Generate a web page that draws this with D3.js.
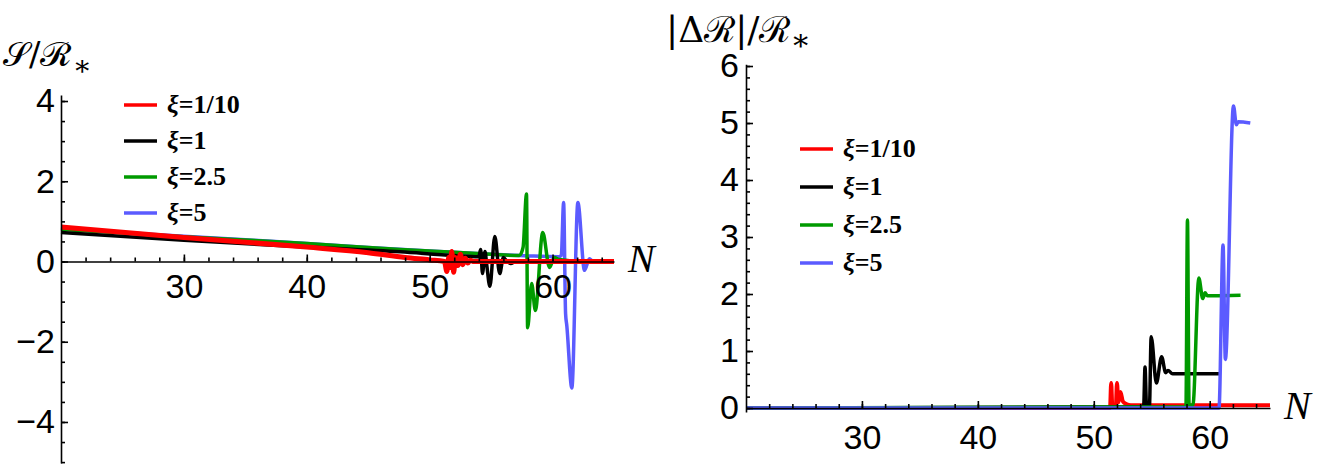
<!DOCTYPE html>
<html>
<head>
<meta charset="utf-8">
<script src="https://cdn.jsdelivr.net/npm/d3@7"></script>
<style>
  html, body { margin: 0; padding: 0; background: #fff; }
  svg { display: block; }
</style>
</head>
<body>
<svg id="chart" width="1326" height="464"></svg>
<script>
// legend / series
const xiLabels = ['1/10', '1', '2.5', '5'];
const colors = ['#ff0000', '#000000', '#009a00', '#5b5bff'];

// left panel: S / R*  vs N
const sRed = [[20, 0.86], [30, 0.6], [40, 0.36], [45, 0.22], [48, 0.1], [50, 0.04], [51.2, 0.0], [51.4, -0.25], [51.55, 0.1], [51.65, -0.15], [51.8, 0.25], [51.95, -0.27], [52.1, 0.1], [52.3, -0.1], [52.5, 0.18], [52.7, -0.08], [52.9, 0.08], [53.1, -0.04], [53.3, 0.03], [53.6, 0], [65, 0]];
const sBlack = [[20, 0.72], [30, 0.53], [40, 0.36], [47.6, 0.24], [52, 0.15], [54.0, 0.12], [54.15, 0.3], [54.3, -0.3], [54.5, 0.25], [54.65, -0.1], [54.9, -0.62], [55.3, 0.62], [55.7, -0.3], [56.0, 0.1], [56.3, 0.0], [56.6, -0.05], [57.0, 0.0], [60.9, 0.0]];
const sGreen = [[20, 0.8], [30, 0.62], [40, 0.45], [47.6, 0.3], [52, 0.23], [55, 0.18], [57.3, 0.15], [57.6, 0.35], [57.88, 1.68], [57.97, -1.65], [58.3, -0.55], [58.6, -1.22], [59.2, 0.72], [59.75, -0.15], [60.15, 0.1], [60.5, 0.05], [62.6, 0.0]];
const sBlue = [[20, 0.82], [25, 0.72], [30, 0.63], [35, 0.54], [40, 0.45], [45, 0.35], [50, 0.26], [55, 0.18], [58, 0.14], [60.5, 0.12], [60.71, 0.15], [60.9, 1.47], [61.06, -1.3], [61.16, -1.6], [61.57, -3.15], [62.06, 1.47], [62.6, -0.22], [63.0, 0.07], [63.3, 0.0], [63.5, 0.0]];

// right panel: |dR| / R*  vs N
const dRed = [[20, 0], [51.4, 0], [51.5, 0.44], [51.6, 0.03], [51.9, 0.03], [52.0, 0.44], [52.12, 0.1], [52.3, 0.28], [52.5, 0.12], [52.8, 0.07], [53.2, 0.05], [65.2, 0.05]];
const dBlack = [[20, 0], [54.3, 0.02], [54.42, 0.72], [54.55, 0.03], [54.8, 0.03], [54.95, 1.25], [55.4, 0.44], [55.85, 0.9], [56.2, 0.62], [56.4, 0.66], [56.8, 0.6], [60.94, 0.6]];
const dGreen = [[20, 0], [57.95, 0.02], [58.08, 3.3], [58.22, 0.05], [58.55, 0.05], [59.06, 2.28], [59.4, 1.92], [59.6, 2.02], [59.8, 1.97], [62.66, 1.98]];
const dBlue = [[20, 0], [60.8, 0], [61.15, 2.86], [61.35, 0.85], [62.05, 5.3], [62.3, 4.97], [62.45, 5.02], [63.5, 5.0]];

const xMajor = [30, 40, 50, 60];
const xMinor = d3.range(22, 65, 2);
const leftYMajor = [-4, -2, 0, 2, 4];
const leftYMinor = d3.range(-5, 4.01, 0.5);
const rightYMajor = [0, 1, 2, 3, 4, 5, 6];
const rightYMinor = d3.range(0, 6.01, 0.2);

const svg = d3.select('#chart');
svg.append('rect').attr('width', 1326).attr('height', 464).attr('fill', '#fff');

function drawPanel (cfg) {
  const x = d3.scaleLinear().domain(cfg.xDomain).range(cfg.xRange);
  const y = d3.scaleLinear().domain(cfg.yDomain).range(cfg.yRange);
  const g = svg.append('g');

  const line = d3.line()
    .x(d => x(d[0]))
    .y(d => y(d[1]))
    .curve(d3.curveMonotoneX);

  // draw order matters: which curve sits on top
  cfg.order.forEach(i => {
    g.append('path')
      .datum(cfg.series[i])
      .attr('fill', 'none')
      .attr('stroke', colors[i])
      .attr('stroke-width', cfg.widths[i])
      .attr('stroke-linejoin', 'round')
      .attr('d', line);
  });

  // x axis: ticks inward (up), labels below
  const y0 = y(0);
  const xMin = g.append('g')
    .attr('transform', `translate(0,${y0})`)
    .call(d3.axisBottom(x).tickValues(xMinor).tickSizeInner(-4).tickSizeOuter(0).tickFormat(''));
  const xMaj = g.append('g')
    .attr('transform', `translate(0,${y0})`)
    .call(d3.axisBottom(x).tickValues(xMajor).tickSizeInner(-7).tickSizeOuter(0).tickPadding(cfg.xPad));
  xMaj.select('.domain').remove();

  // y axis: ticks inward (right), labels left
  const yMin = g.append('g')
    .attr('transform', `translate(${cfg.xRange[0]},0)`)
    .call(d3.axisLeft(y).tickValues(cfg.yMinor).tickSizeInner(-4).tickSizeOuter(0).tickFormat(''));
  const yMaj = g.append('g')
    .attr('transform', `translate(${cfg.xRange[0]},0)`)
    .call(d3.axisLeft(y).tickValues(cfg.yMajor).tickSizeInner(-7).tickSizeOuter(0)
      .tickPadding(cfg.yPad).tickFormat(d => d3.format('d')(d)));
  yMaj.select('.domain').remove();

  [xMin, xMaj, yMin, yMaj].forEach(a => {
    a.selectAll('path, line').attr('stroke', '#000').attr('stroke-width', 1.6);
  });
  [xMaj, yMaj].forEach(a => {
    a.selectAll('text')
      .attr('font-family', "'Liberation Sans', Arial, sans-serif")
      .attr('font-size', cfg.tickFont)
      .attr('fill', '#000');
  });

  // N label
  g.append('text')
    .attr('x', cfg.xRange[1] + 14)
    .attr('y', y0 + 11)
    .attr('font-family', "'Liberation Serif', 'Times New Roman', serif")
    .attr('font-style', 'italic')
    .attr('font-size', 40)
    .text('N');

  // legend
  cfg.order.slice().sort().forEach(i => {
    const ly = cfg.legend.y + i * cfg.legend.dy;
    g.append('line')
      .attr('x1', cfg.legend.x).attr('x2', cfg.legend.x + 33)
      .attr('y1', ly).attr('y2', ly)
      .attr('stroke', colors[i]).attr('stroke-width', 3.5);
    const t = g.append('text')
      .attr('x', cfg.legend.x + 43)
      .attr('y', ly + 8)
      .attr('font-family', "'Liberation Serif', 'Times New Roman', serif")
      .attr('font-weight', 'bold')
      .attr('font-size', 26);
    t.append('tspan').attr('font-style', 'italic').text('ξ');
    t.append('tspan').text('=' + xiLabels[i]);
  });

  return g;
}

const left = drawPanel({
  xDomain: [20, 65], xRange: [61, 614],
  yDomain: [-5.02, 4.15], yRange: [462.9, 95],
  yMajor: leftYMajor, yMinor: leftYMinor,
  series: [sRed, sBlack, sGreen, sBlue],
  order: [3, 2, 1, 0],
  widths: [5, 3.5, 3.5, 3.5],
  xPad: 12, yPad: 6, tickFont: 34,
  legend: {x: 124, y: 105, dy: 36}
});

const right = drawPanel({
  xDomain: [20, 65.2], xRange: [746, 1270],
  yDomain: [-0.07, 6.03], yRange: [412, 64.3],
  yMajor: rightYMajor, yMinor: rightYMinor,
  series: [dRed, dBlack, dGreen, dBlue],
  order: [0, 1, 2, 3],
  widths: [4, 3.5, 3.5, 3.5],
  xPad: 17, yPad: 7, tickFont: 34,
  legend: {x: 800, y: 149, dy: 38}
});

// axis titles
const lt = svg.append('text')
  .attr('x', 3).attr('y', 66)
  .attr('font-family', "'DejaVu Serif', serif")
  .attr('font-size', 34);
lt.append('tspan').text('𝒮/ℛ');
lt.append('tspan').attr('font-size', 28).attr('dy', 9).text('∗');

const rt = svg.append('text')
  .attr('x', 666).attr('y', 42)
  .attr('font-family', "'DejaVu Serif', serif")
  .attr('font-size', 36);
rt.append('tspan').text('|Δℛ|/ℛ');
rt.append('tspan').attr('font-size', 30).attr('dy', 8).text('∗');
</script>
</body>
</html>
